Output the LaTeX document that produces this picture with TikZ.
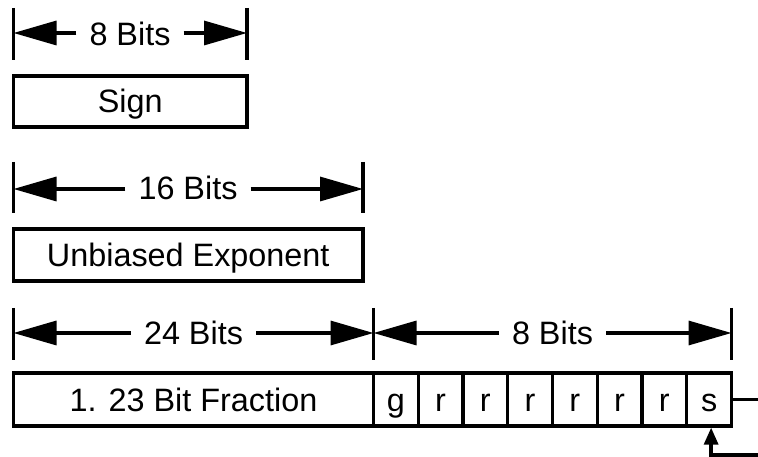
\documentclass[tikz,border=0pt]{standalone}
\usepackage{fontspec}
\setmainfont{Liberation Sans}
\usetikzlibrary{arrows.meta}
\begin{document}
\begin{tikzpicture}[x=1bp,y=-1bp,
  txt/.style={font=\fontsize{32.5}{38}\selectfont, text height=23bp, text depth=0bp},
  rule/.style={line width=3.3bp},
  dimarrow/.style={line width=3.3bp, -{Triangle[length=43bp,width=24bp]}},
  fieldbox/.style={txt, draw, line width=3.3bp, inner sep=0pt},
  cell/.style={fieldbox, minimum width=44.75bp, minimum height=53bp},
  dimlabel/.style={txt, inner xsep=13bp, inner ysep=0pt},
  feedarrow/.style={line width=3.3bp, -{Triangle[length=17bp,width=14bp]}}]
\useasboundingbox (0,0) rectangle (758,457);

% ---- Sign field, 8 bits ----
\coordinate (s1l) at (13.5,33);
\coordinate (s1r) at (247,33);
\draw[rule] (13.5,8) -- (13.5,60);
\draw[rule] (247,8) -- (247,60);
\node[dimlabel] (d1) at (130,34) {8 Bits};
\draw[dimarrow] (d1.west |- s1l) -- (s1l);
\draw[dimarrow] (d1.east |- s1r) -- (s1r);
\node[fieldbox, minimum width=233.5bp, minimum height=51bp] (sign) at (130.25,101.5) {Sign};

% ---- Exponent field, 16 bits ----
\coordinate (s2l) at (13.5,189);
\coordinate (s2r) at (363,189);
\draw[rule] (13.5,162) -- (13.5,213);
\draw[rule] (363,162) -- (363,213);
\node[dimlabel] (d2) at (188,188) {16 Bits};
\draw[dimarrow] (d2.west |- s2l) -- (s2l);
\draw[dimarrow] (d2.east |- s2r) -- (s2r);
\node[fieldbox, minimum width=349.5bp, minimum height=52bp] (expo) at (188.25,255) {Unbiased Exponent};

% ---- Fraction field, 24 + 8 bits ----
\coordinate (s3l) at (13.5,333);
\coordinate (s3m) at (373.5,333);
\coordinate (s3r) at (731.5,333);
\draw[rule] (13.5,308) -- (13.5,360);
\draw[rule] (373.5,308) -- (373.5,360);
\draw[rule] (731.5,308) -- (731.5,360);
\node[dimlabel] (d3) at (193.5,333) {24 Bits};
\draw[dimarrow] (d3.west) -- (s3l);
\draw[dimarrow] (d3.east) -- (s3m);
\node[dimlabel] (d4) at (552.5,333) {8 Bits};
\draw[dimarrow] (d4.west) -- (s3m);
\draw[dimarrow] (d4.east) -- (s3r);

\node[fieldbox, minimum width=360bp, minimum height=53bp] (frac) at (193.5,399.5) {1. 23 Bit Fraction};
\foreach \t [count=\i from 0] in {g,r,r,r,r,r,r,s}
  \node[cell] (c\i) at ({373.5+44.75*(\i+0.5)},399.5) {\t};

% ---- sticky bit in and out ----
\coordinate (outend) at (758,399.5);
\coordinate (inend) at (758,455);
\draw[rule] (c7.east) -- (outend);
\draw[feedarrow] (inend) -| ([xshift=2bp]c7.south);
\end{tikzpicture}
\end{document}
